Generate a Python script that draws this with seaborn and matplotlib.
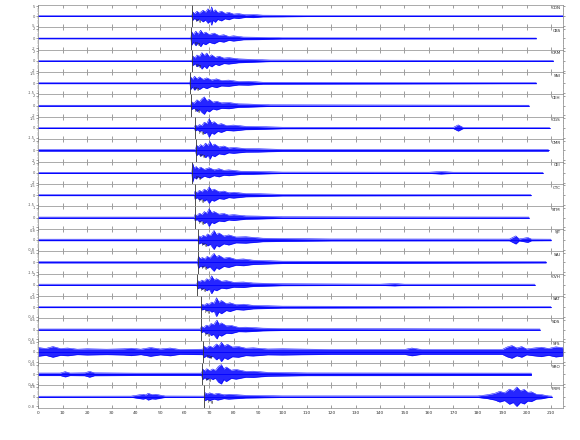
import numpy as np
import pandas as pd
import matplotlib
matplotlib.use("Agg")
import matplotlib.pyplot as plt
from matplotlib.ticker import MultipleLocator, AutoMinorLocator
import seaborn as sns

# ---------------- data ----------------
stations = ["CDN", "CBS", "CRM", "SNI", "CEH", "CGS", "CMR", "CEI", "CTC",
            "STM", "SJT", "SAI", "CVH", "SAT", "SDS", "SFS", "SRO", "FRM"]
p_times = [63.0, 62.6, 63.0, 62.2, 62.6, 64.0, 64.5, 63.0, 64.0,
           64.0, 65.5, 65.3, 65.0, 66.7, 66.5, 67.5, 67.0, 68.0]
end_times = [215.0, 204.0, 211.0, 204.0, 201.0, 209.5, 209.0, 206.7, 201.8,
             201.0, 210.0, 208.0, 203.4, 210.0, 205.5, 215.0, 202.0, 210.4]
y_scales = [5.0, 2.0, 2.0, 1.5, 2.0, 1.5, 2.0, 2.0, 1.5,
            1.0, 0.8, 1.5, 2.0, 0.4, 0.6, 0.4, 0.6, 0.8]
pick_label = "IPg"

# envelope breakpoints (time s, amplitude as fraction of panel half-height)
env_CDN = [(0, .04), (62.9, .04), (63.2, .45), (64, .25), (65, .5), (66, .3), (67.5, .6), (68.5, .4), (69.5, .75), (70.5, .5), (71, .95), (71.6, .45), (72.5, .65), (73.5, .35), (75, .5), (76.5, .28), (78, .38), (80, .2), (82, .25), (85, .13), (88, .16), (92, .09), (100, .08), (110, .05), (215, .04)]
env_CBS = [(0, .04), (62.5, .04), (62.8, .7), (63.6, .4), (64.5, .75), (65.5, .45), (66.5, .85), (67.5, .5), (68.5, .65), (70, .4), (72, .55), (74, .3), (76, .38), (78, .2), (80, .27), (84, .14), (90, .12), (100, .06), (204, .04)]
env_CRM = [(0, .04), (62.9, .04), (63.3, .5), (64.2, .3), (65, .6), (66, .45), (67, .85), (68, .55), (69, .8), (70, .45), (71, .62), (72.5, .35), (74, .48), (76, .28), (78, .33), (82, .2), (86, .16), (95, .08), (211, .04)]
env_SNI = [(0, .05), (62.1, .05), (62.4, .65), (63.2, .4), (64, .72), (65, .45), (66, .65), (67.5, .4), (69, .55), (71, .33), (73, .45), (75, .28), (78, .32), (82, .18), (86, .2), (92, .1), (204, .05)]
env_CEH = [(0, .04), (62.5, .04), (62.8, .4), (63.8, .25), (65, .6), (66, .4), (67, .7), (68, .9), (69, .5), (70, .65), (71.5, .35), (73, .45), (75, .28), (78, .32), (82, .18), (86, .16), (95, .08), (201, .04)]
env_CGS = [(0, .05), (63.9, .05), (64.3, .3), (65.2, .18), (66, .35), (67, .25), (68, .6), (69, .45), (70, .95), (71, .5), (72, .65), (73.5, .35), (75, .45), (77, .25), (80, .3), (85, .17), (90, .15), (100, .08), (170, .06), (172, .32), (174, .06), (209.5, .05)]
env_CMR = [(0, .08), (64.4, .08), (64.8, .55), (65.6, .35), (66.5, .6), (67.5, .4), (68.5, .75), (69.5, .5), (70.3, .92), (71.2, .5), (72.2, .65), (74, .35), (76, .45), (78, .25), (80, .3), (85, .18), (90, .17), (100, .1), (209, .08)]
env_CEI = [(0, .05), (62.9, .05), (63.2, .98), (63.9, .45), (64.7, .65), (65.5, .4), (66.5, .58), (68, .35), (70, .52), (72, .3), (74, .42), (76, .25), (78, .3), (83, .16), (88, .15), (100, .07), (160, .06), (165, .13), (170, .06), (206.7, .05)]
env_CTC = [(0, .05), (63.9, .05), (64.2, .42), (65, .25), (66, .5), (67, .35), (68, .62), (69, .45), (70, .85), (71, .5), (72, .62), (74, .35), (76, .42), (78, .25), (80, .3), (85, .17), (90, .15), (100, .08), (201.8, .05)]
env_STM = [(0, .05), (63.9, .05), (64.2, .32), (65, .2), (66, .45), (67, .3), (68, .62), (69, .45), (70, .92), (71, .5), (72, .62), (74, .35), (76, .42), (78, .25), (80, .3), (85, .17), (90, .15), (100, .08), (201, .05)]
env_SJT = [(0, .08), (65.4, .08), (65.8, .42), (66.7, .28), (67.5, .48), (68.5, .35), (69.3, .62), (70.5, .45), (71.3, .75), (72, .98), (73, .55), (74, .72), (76, .4), (78, .52), (81, .3), (85, .33), (92, .18), (100, .15), (120, .1), (193, .09), (195.6, .42), (197, .1), (200.5, .25), (202, .09), (210, .08)]
env_SAI = [(0, .06), (65.2, .06), (65.6, .62), (66.4, .38), (67.2, .5), (68.2, .35), (69.2, .62), (70.3, .45), (71.2, .72), (72, .92), (73, .55), (74, .72), (76, .42), (78, .52), (81, .3), (84, .35), (88, .22), (100, .12), (208, .06)]
env_CVH = [(0, .06), (64.9, .06), (65.3, .42), (66.2, .3), (67, .48), (68, .35), (69, .62), (70, .45), (71, .92), (72, .5), (73, .62), (75, .35), (77, .42), (80, .25), (84, .28), (88, .18), (100, .1), (140, .06), (146, .12), (150, .06), (203.4, .06)]
env_SAT = [(0, .05), (66.6, .05), (67, .3), (68, .2), (69, .38), (70, .3), (71, .52), (72, .4), (73, .97), (74, .5), (75, .68), (77, .35), (78.5, .45), (81, .25), (84, .3), (88, .18), (100, .1), (210, .05)]
env_SDS = [(0, .05), (66.4, .05), (66.8, .32), (67.8, .2), (68.8, .45), (69.8, .35), (70.8, .62), (71.8, .5), (72.6, .78), (73.2, .97), (74, .55), (75, .68), (77, .38), (79, .42), (82, .22), (85, .24), (92, .14), (100, .1), (205.5, .05)]
env_SFS = [(0, .45), (3, .35), (6, .55), (9, .35), (12, .4), (16, .28), (20, .32), (28, .28), (35, .32), (38, .38), (42, .28), (46, .45), (50, .3), (54, .4), (58, .25), (67.4, .28), (67.8, .6), (69, .4), (70, .62), (71.5, .45), (73, .82), (74, .6), (75, 1.0), (76.2, .6), (77.5, .78), (79.5, .5), (82, .55), (85, .38), (88, .42), (94, .3), (100, .32), (120, .25), (150, .25), (153, .4), (157, .25), (190, .25), (192, .5), (194, .65), (196, .4), (198, .55), (200, .3), (203, .4), (206, .48), (209, .35), (212, .52), (215, .42)]
env_SRO = [(0, .13), (9, .13), (11, .27), (13, .13), (19, .15), (21, .3), (23, .15), (40, .12), (66.9, .12), (67.3, .55), (68.2, .35), (69, .58), (70.2, .38), (71.5, .55), (72.5, .4), (73.8, .82), (75, 1.0), (76, .55), (77, .75), (79, .42), (81, .5), (85, .3), (88, .32), (94, .2), (110, .14), (202, .12)]
env_FRM = [(0, .05), (38, .06), (41, .18), (43, .25), (44, .18), (45, .35), (46.5, .22), (48, .25), (52, .07), (67.9, .06), (68.3, .42), (69.2, .28), (70.2, .4), (72, .25), (73.5, .35), (76, .2), (78, .25), (85, .14), (100, .08), (180, .08), (184, .2), (187, .35), (189, .55), (191, .4), (193, .78), (194.5, .6), (196, 1.0), (197.5, .6), (199, .75), (200.5, .45), (202, .5), (204, .25), (206, .22), (209, .08), (210.4, .06)]

envelopes = [env_CDN, env_CBS, env_CRM, env_SNI, env_CEH, env_CGS, env_CMR, env_CEI, env_CTC,
             env_STM, env_SJT, env_SAI, env_CVH, env_SAT, env_SDS, env_SFS, env_SRO, env_FRM]
x_ticks = list(range(0, 220, 10))

# ---------------- drawing ----------------
sns.set_style("ticks")
plt.rcParams["font.family"] = ["DejaVu Sans"]

fig, axes = plt.subplots(len(stations), 1, figsize=(5.8, 4.4), dpi=100, sharex=True,
                         gridspec_kw=dict(hspace=0))
fig.subplots_adjust(left=0.066, right=0.971, top=0.989, bottom=0.073)

blue = "#0000ff"
for i, ax in enumerate(axes):
    env = envelopes[i]
    sc = y_scales[i]
    df = pd.DataFrame(env, columns=["t", "a"])
    df["a"] = df["a"] * sc
    df["neg"] = -df["a"]
    ax.fill_between(df["t"], df["neg"], df["a"], color=blue, lw=0, alpha=0.85)
    sns.lineplot(data=df, x="t", y="a", ax=ax, color=blue, lw=0.35)
    sns.lineplot(data=df, x="t", y="neg", ax=ax, color=blue, lw=0.35)
    ax.plot([0, end_times[i]], [0, 0], color=blue, lw=0.6)
    ax.set_ylim(-1.15 * sc, 1.15 * sc)
    ax.axvline(p_times[i], color="#333333", lw=0.6)
    ax.text(p_times[i] + 1.5, -0.55 * sc, pick_label, fontsize=3.0, color="#222222",
            va="center", ha="left")
    ax.text(0.995, 0.93, stations[i], transform=ax.transAxes, fontsize=3.0,
            ha="right", va="top", color="#222222")
    ax.set_ylabel("")
    ax.set_xlabel("")
    ax.set_yticks([-sc, 0, sc])
    ax.set_yticklabels([f"{-sc:g}", "0", f"{sc:g}"])
    ax.yaxis.set_minor_locator(AutoMinorLocator(4))
    ax.tick_params(axis="y", which="major", labelsize=2.6, length=1.5, width=0.4,
                   pad=0.8, direction="out", left=True, right=True, colors="#555555")
    ax.tick_params(axis="y", which="minor", length=1.0, width=0.3, left=True,
                   right=True, direction="out", colors="#777777")
    ax.tick_params(axis="x", which="major", length=2, width=0.4, direction="in",
                   top=True, bottom=True, labelsize=3.2, pad=2, colors="#555555")
    for sp in ax.spines.values():
        sp.set_visible(True)
        sp.set_color("#888888")
        sp.set_linewidth(0.5)

axes[-1].set_xlim(0, 215)
axes[-1].set_xticks(x_ticks)
axes[-1].set_xticklabels([str(v) for v in x_ticks])
for lab in axes[-1].get_xticklabels():
    lab.set_color("#333333")

fig.savefig("out.png", dpi=100)
